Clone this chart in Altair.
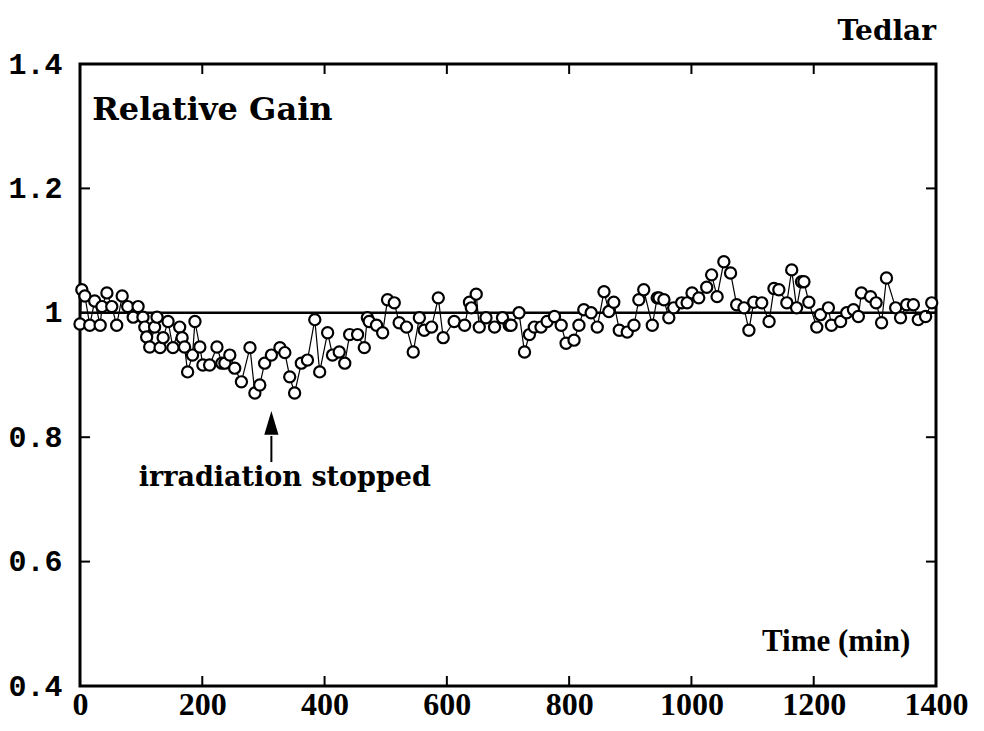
import altair as alt
import pandas as pd

# Time (min) and relative gain
times = [0, 3, 8, 16, 24, 33, 36, 44, 52, 60, 69, 78, 87, 95, 103, 106, 109, 114, 122, 126,
         131, 136, 144, 152, 163, 167, 171, 176, 184, 188, 196, 201, 212, 224, 232, 237, 245, 253, 264, 278,
         286, 294, 302, 313, 327, 335, 343, 351, 362, 372, 384, 392, 405, 413, 424, 433, 441, 454, 465, 470,
         473, 485, 495, 503, 514, 522, 534, 545, 555, 563, 575, 586, 594, 612, 629, 637, 640, 648, 653, 664,
         678, 691, 702, 705, 718, 727, 735, 743, 754, 764, 776, 787, 795, 808, 816, 824, 836, 846, 857, 865,
         873, 882, 895, 906, 914, 922, 936, 944, 947, 955, 963, 971, 984, 993, 1001, 1012, 1025, 1033, 1042, 1053,
         1064, 1074, 1086, 1094, 1102, 1115, 1127, 1135, 1143, 1156, 1164, 1172, 1180, 1184, 1192, 1205, 1211, 1224, 1229, 1244,
         1254, 1265, 1273, 1278, 1293, 1302, 1311, 1319, 1334, 1342, 1352, 1363, 1371, 1383, 1393]
gains = [0.982, 1.037, 1.027, 0.980, 1.019, 0.980, 1.010, 1.032, 1.010, 0.980, 1.027, 1.010, 0.993, 1.010, 0.993, 0.977, 0.961, 0.945, 0.977, 0.993,
         0.944, 0.960, 0.986, 0.944, 0.977, 0.960, 0.945, 0.905, 0.932, 0.986, 0.945, 0.916, 0.916, 0.945, 0.919, 0.919, 0.932, 0.911, 0.889, 0.944,
         0.871, 0.884, 0.919, 0.932, 0.944, 0.936, 0.897, 0.871, 0.919, 0.924, 0.989, 0.905, 0.968, 0.932, 0.937, 0.919, 0.965, 0.965, 0.944, 0.992,
         0.986, 0.980, 0.968, 1.021, 1.016, 0.984, 0.977, 0.937, 0.992, 0.972, 0.977, 1.024, 0.960, 0.986, 0.980, 1.017, 1.008, 1.030, 0.977, 0.992,
         0.977, 0.992, 0.980, 0.980, 1.000, 0.937, 0.965, 0.977, 0.977, 0.986, 0.994, 0.980, 0.951, 0.956, 0.980, 1.005, 1.000, 0.977, 1.034, 1.002,
         1.017, 0.972, 0.969, 0.980, 1.021, 1.037, 0.980, 1.024, 1.024, 1.021, 0.992, 1.008, 1.016, 1.016, 1.032, 1.024, 1.041, 1.061, 1.026, 1.082,
         1.064, 1.013, 1.008, 0.972, 1.017, 1.016, 0.986, 1.039, 1.037, 1.016, 1.069, 1.008, 1.050, 1.050, 1.017, 0.977, 0.997, 1.008, 0.980, 0.986,
         1.000, 1.005, 0.994, 1.032, 1.026, 1.016, 0.984, 1.056, 1.008, 0.992, 1.013, 1.013, 0.989, 0.994, 1.016]

x_ticks = [0, 200, 400, 600, 800, 1000, 1200, 1400]
y_ticks = [0.4, 0.6, 0.8, 1.0, 1.2, 1.4]
reference_level = [1.0]

W, H = 856, 622
SERIF = "Liberation Serif"
WIDE_SERIF = "DejaVu Serif"

df = pd.DataFrame({"t": times, "g": gains})

xs = alt.Scale(domain=[0, 1400], nice=False, zero=False)
ys = alt.Scale(domain=[0.4, 1.4], nice=False, zero=False)

x_axis = alt.Axis(values=x_ticks, title=None, grid=False, ticks=False, domain=False,
                  format="d",
                  labelFont=SERIF, labelFontWeight="bold", labelFontSize=32,
                  labelColor="black", labelPadding=3, labelFlush=False)
y_axis = alt.Axis(values=y_ticks, title=None, grid=False, ticks=False, domain=False,
                  labelFont="Liberation Mono", labelFontWeight="bold", labelFontSize=30,
                  labelColor="black", labelPadding=18,
                  labelExpr="datum.value == 1 ? '1' : format(datum.value, '.1f')")

base = alt.Chart(df)

line = base.mark_line(color="black", strokeWidth=1.2).encode(
    x=alt.X("t:Q", scale=xs, axis=x_axis),
    y=alt.Y("g:Q", scale=ys, axis=y_axis),
)
pts = base.mark_point(shape="circle", filled=False, fill="white", fillOpacity=1,
                      color="black", strokeWidth=2.2, size=125, opacity=1).encode(
    x=alt.X("t:Q", scale=xs), y=alt.Y("g:Q", scale=ys))

ref = alt.Chart(pd.DataFrame({"y": reference_level})).mark_rule(
    color="black", strokeWidth=2.5).encode(y=alt.Y("y:Q", scale=ys))

xt = pd.DataFrame({"x": x_ticks[1:-1]})
yt = pd.DataFrame({"y": y_ticks[1:-1]})
tick_b = alt.Chart(xt).mark_rule(color="black", strokeWidth=2).encode(
    x=alt.X("x:Q", scale=xs), y=alt.value(H), y2=alt.value(H - 10))
tick_t = alt.Chart(xt).mark_rule(color="black", strokeWidth=2).encode(
    x=alt.X("x:Q", scale=xs), y=alt.value(0), y2=alt.value(10))
tick_l = alt.Chart(yt).mark_rule(color="black", strokeWidth=2).encode(
    y=alt.Y("y:Q", scale=ys), x=alt.value(0), x2=alt.value(10))
tick_r = alt.Chart(yt).mark_rule(color="black", strokeWidth=2).encode(
    y=alt.Y("y:Q", scale=ys), x=alt.value(W), x2=alt.value(W - 10))

gain_label = pd.DataFrame({"t": [20], "g": [1.326], "txt": ["Relative Gain"]})
sample_label = pd.DataFrame({"t": [1400], "g": [1.451], "txt": ["Tedlar"]})
time_label = pd.DataFrame({"t": [1358], "g": [0.471], "txt": ["Time (min)"]})

txt_gain = alt.Chart(gain_label).mark_text(
    font=WIDE_SERIF, fontWeight="bold", fontSize=32, align="left", baseline="middle", color="black"
).encode(x=alt.X("t:Q", scale=xs), y=alt.Y("g:Q", scale=ys), text="txt:N")
txt_sample = alt.Chart(sample_label).mark_text(
    font=WIDE_SERIF, fontWeight="bold", fontSize=28, align="right", baseline="middle", color="black"
).encode(x=alt.X("t:Q", scale=xs), y=alt.Y("g:Q", scale=ys), text="txt:N")
txt_time = alt.Chart(time_label).mark_text(
    font=SERIF, fontWeight="bold", fontSize=31, align="right", baseline="middle", color="black"
).encode(x=alt.X("t:Q", scale=xs), y=alt.Y("g:Q", scale=ys), text="txt:N")

annot = pd.DataFrame({"t": [335], "g": [0.734], "txt": ["irradiation stopped"]})
txt_annot = alt.Chart(annot).mark_text(
    font=WIDE_SERIF, fontWeight="bold", fontSize=27, align="center", baseline="middle", color="black"
).encode(x=alt.X("t:Q", scale=xs), y=alt.Y("g:Q", scale=ys), text="txt:N")

arrow = pd.DataFrame({"t": [313], "g": [0.802], "g2": [0.76], "head": [0.823]})
shaft = alt.Chart(arrow).mark_rule(color="black", strokeWidth=2).encode(
    x=alt.X("t:Q", scale=xs), y=alt.Y("g:Q", scale=ys), y2="g2:Q")
head = alt.Chart(arrow).mark_point(shape="M0,-1L0.6,1L-0.6,1Z", filled=True,
                                   color="black", size=560, opacity=1).encode(
    x=alt.X("t:Q", scale=xs), y=alt.Y("head:Q", scale=ys))

chart = alt.layer(ref, line, pts, tick_b, tick_t, tick_l, tick_r,
                  txt_gain, txt_sample, txt_time, txt_annot, shaft, head).properties(
    width=W, height=H,
    autosize=alt.AutoSizeParams(type="none"),
    padding={"left": 72, "top": 56, "right": 40, "bottom": 45},
    background="white",
).configure_view(stroke="black", strokeWidth=3, clip=False)

chart.save("out.html", embed_options={"renderer": "svg", "actions": False})
